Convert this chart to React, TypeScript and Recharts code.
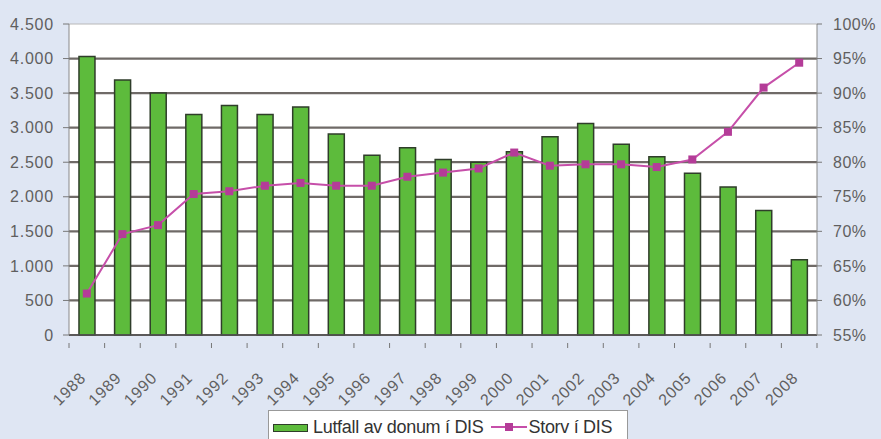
import React from "react";
import {
  Bar,
  CartesianGrid,
  ComposedChart,
  Line,
  XAxis,
  YAxis,
} from "recharts";

const years = [
  "1988", "1989", "1990", "1991", "1992", "1993", "1994", "1995", "1996", "1997",
  "1998", "1999", "2000", "2001", "2002", "2003", "2004", "2005", "2006", "2007", "2008",
];
const lutfall = [
  4030, 3690, 3500, 3190, 3320, 3190, 3300, 2910, 2600, 2710,
  2540, 2500, 2650, 2870, 3060, 2760, 2580, 2340, 2140, 1800, 1090,
];
const storv = [
  61.0, 69.6, 70.9, 75.4, 75.8, 76.6, 77.0, 76.6, 76.6, 77.9,
  78.5, 79.1, 81.4, 79.5, 79.7, 79.7, 79.3, 80.4, 84.4, 90.8, 94.4,
];
const leftTicks = [0, 500, 1000, 1500, 2000, 2500, 3000, 3500, 4000, 4500];
const rightTicks = [55, 60, 65, 70, 75, 80, 85, 90, 95, 100];

const data = years.map((y, i) => ({ year: y, lutfall: lutfall[i], storv: storv[i] }));

const FONT = "'Liberation Sans', Arial, sans-serif";
const GREEN = "#5dbb3c";
const GREEN_EDGE = "#2f3d2a";
const PINK = "#c64fa9";
const TEXT = "#5f5f5f";

const W = 881;
const H = 439;
const PLOT_L = 69;
const PLOT_R = 817;
const STEP = (PLOT_R - PLOT_L) / years.length;

function fmtThousands(v: number) {
  return String(v).replace(/\B(?=(\d{3})+(?!\d))/g, ".");
}

// excel-ish: darker inner gridlines, faint top border line
function GridLine(props: any) {
  const { x1, x2, y1, y2, index } = props;
  const top = index === leftTicks.length - 1;
  return (
    <line
      x1={x1}
      x2={x2}
      y1={y1}
      y2={y2}
      stroke={top ? "#b8b8b8" : "#6f6a67"}
      strokeWidth={top ? 1 : 2.2}
    />
  );
}

function YearTick(props: any) {
  const { x, y, payload, index } = props;
  return (
    <g>
      <line x1={x - STEP / 2} y1={y} x2={x - STEP / 2} y2={y + 5} stroke="#777" />
      {index === years.length - 1 && (
        <line x1={x + STEP / 2} y1={y} x2={x + STEP / 2} y2={y + 5} stroke="#777" />
      )}
      <text
        x={x}
        y={y + 36}
        transform={`rotate(-45 ${x} ${y + 36})`}
        textAnchor="end"
        fontSize={16}
        letterSpacing={0.8}
        fill={TEXT}
        fontFamily={FONT}
      >
        {payload.value}
      </text>
    </g>
  );
}

function SquareDot(props: any) {
  const { cx, cy } = props;
  if (cx == null || cy == null) return null;
  return <rect x={cx - 4} y={cy - 4} width={8} height={8} fill="#b43c98" />;
}

export default function App() {
  return (
    <div style={{ position: "relative", width: W, height: H, background: "#dfe6f3", fontFamily: FONT }}>
      <style>{"body{margin:0}"}</style>
      <ComposedChart
        width={W}
        height={H}
        data={data}
        margin={{ top: 24, right: 0, left: 0, bottom: 0 }}
        barCategoryGap="28%"
      >
        <CartesianGrid
          yAxisId="left"
          vertical={false}
          fill="#ffffff"
          horizontal={(p: any) => <GridLine key={p.key} {...p} />}
        />
        <XAxis
          dataKey="year"
          height={104}
          interval={0}
          tickLine={false}
          axisLine={{ stroke: "#555", strokeWidth: 1.5 }}
          tick={<YearTick />}
        />
        <YAxis
          yAxisId="left"
          width={69}
          domain={[0, 4500]}
          ticks={leftTicks}
          tickFormatter={fmtThousands}
          tickSize={6}
          tickMargin={9}
          axisLine={{ stroke: "#888" }}
          tickLine={{ stroke: "#777" }}
          tick={{ fontSize: 16, fill: TEXT, fontFamily: FONT, letterSpacing: 0.8 }}
        />
        <YAxis
          yAxisId="right"
          orientation="right"
          width={64}
          domain={[55, 100]}
          ticks={rightTicks}
          tickFormatter={(v: number) => `${v}%`}
          tickSize={5}
          tickMargin={11}
          axisLine={{ stroke: "#888" }}
          tickLine={{ stroke: "#777" }}
          tick={{ fontSize: 16, fill: TEXT, fontFamily: FONT, letterSpacing: 0.5 }}
        />
        <Bar
          yAxisId="left"
          dataKey="lutfall"
          fill={GREEN}
          stroke={GREEN_EDGE}
          strokeWidth={1.5}
          isAnimationActive={false}
        />
        <Line
          yAxisId="right"
          dataKey="storv"
          type="linear"
          stroke={PINK}
          strokeWidth={2}
          dot={<SquareDot />}
          activeDot={false}
          isAnimationActive={false}
        />
      </ComposedChart>
      <div
        style={{
          position: "absolute",
          left: 268,
          top: 410,
          width: 360,
          height: 34,
          background: "#fff",
          border: "1px solid #999",
          boxSizing: "border-box",
          display: "flex",
          alignItems: "flex-start",
          paddingTop: 7,
          paddingLeft: 4,
          fontSize: 18,
          color: "#333",
          whiteSpace: "nowrap",
        }}
      >
        <span
          style={{
            flex: "none",
            display: "inline-block",
            width: 33,
            height: 6,
            background: GREEN,
            border: `1px solid ${GREEN_EDGE}`,
            marginTop: 6,
            marginRight: 5,
          }}
        />
        <span style={{ lineHeight: "18px", letterSpacing: -0.3 }}>Lutfall av donum í DIS</span>
        <svg width={36} height={18} style={{ flex: "none", marginLeft: 7, marginRight: 2 }}>
          <line x1={0} y1={9} x2={36} y2={9} stroke={PINK} strokeWidth={2} />
          <rect x={14} y={5} width={8} height={8} fill="#b43c98" />
        </svg>
        <span style={{ lineHeight: "18px", letterSpacing: -0.3 }}>Storv í DIS</span>
      </div>
    </div>
  );
}
